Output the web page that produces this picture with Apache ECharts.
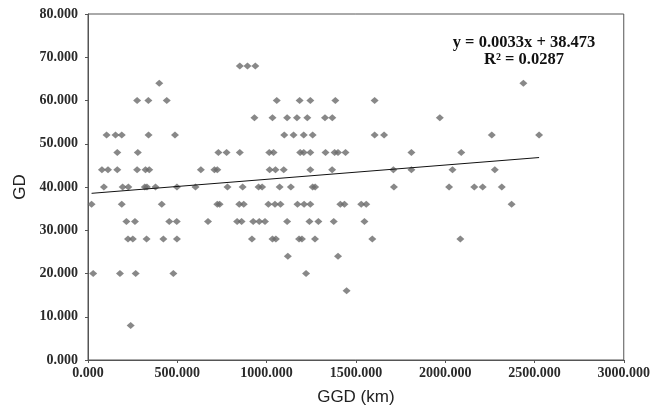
<!DOCTYPE html>
<html>
<head>
<meta charset="utf-8">
<script src="https://cdn.jsdelivr.net/npm/echarts@6/dist/echarts.min.js"></script>
<style>html,body{margin:0;padding:0;background:#fff}#c{width:653px;height:412px}</style>
</head>
<body>
<div id="c"></div>
<script>
// Points grouped by GD level: [GD, [GGD values...]]
const gd68 = [850, 893, 937];
const gd64 = [399, 2438];
const gd60 = [275, 338, 441, 1057, 1185, 1245, 1385, 1605];
const gd56 = [932, 1033, 1115, 1170, 1228, 1327, 1368, 1970];
const gd52 = [104, 154, 189, 339, 487, 1099, 1151, 1208, 1258, 1605, 1658, 2261, 2526];
const gd48 = [164, 279, 730, 776, 850, 1015, 1039, 1188, 1208, 1245, 1330, 1381, 1400, 1442, 1811, 2090];
const gd44 = [78, 112, 164, 275, 322, 343, 632, 708, 724, 1017, 1050, 1096, 1245, 1367, 1710, 1811, 2041, 2278];
const gd40 = [89, 194, 226, 318, 330, 378, 498, 602, 781, 866, 955, 975, 1073, 1136, 1258, 1272, 1713, 2022, 2163, 2210, 2317];
const gd36 = [20, 189, 413, 724, 737, 847, 872, 1010, 1047, 1078, 1173, 1210, 1245, 1413, 1436, 1530, 1558, 2372];
const gd32 = [215, 263, 455, 497, 672, 835, 860, 925, 959, 991, 1115, 1240, 1290, 1376, 1548];
const gd28 = [224, 251, 328, 422, 498, 918, 1033, 1052, 1182, 1198, 1271, 1592, 2085];
const gd24 = [1119, 1400];
const gd20 = [29, 179, 267, 478, 1221];
const gd16 = [1448];
const gd08 = [239];

const levels = [[68, gd68], [64, gd64], [60, gd60], [56, gd56], [52, gd52], [48, gd48], [44, gd44],
  [40, gd40], [36, gd36], [32, gd32], [28, gd28], [24, gd24], [20, gd20], [16, gd16], [8, gd08]];

// Trend line endpoints
const trendX = [20, 2526];
const trendY = [38.54, 46.81];
const eqText = ['y = 0.0033x + 38.473', 'R² = 0.0287'];

const xTicks = { min: 0, max: 3000, interval: 500 };
const yTicks = { min: 0, max: 80, interval: 10 };

const pts = [];
levels.forEach(([g, xs]) => xs.forEach(x => pts.push([x, g])));

const chart = echarts.init(document.getElementById('c'));
const tickFont = { fontFamily: 'Liberation Serif', fontWeight: 'bold', fontSize: 14, color: '#2a2a2a' };
chart.setOption({
  animation: false,
  grid: { left: 88, right: 24, top: 14, bottom: 52, show: true, borderColor: '#555', borderWidth: 1 },
  xAxis: {
    type: 'value', min: xTicks.min, max: xTicks.max, interval: xTicks.interval,
    name: 'GGD (km)', nameLocation: 'middle', nameGap: 29,
    nameTextStyle: { fontFamily: 'Liberation Sans', fontSize: 17, color: '#222' },
    axisLine: { show: true, lineStyle: { color: '#555' } },
    axisTick: { show: true, length: 3, lineStyle: { color: '#555' } },
    axisLabel: Object.assign({ margin: 6, formatter: v => v.toFixed(3) }, tickFont),
    splitLine: { show: false }
  },
  yAxis: {
    type: 'value', min: yTicks.min, max: yTicks.max, interval: yTicks.interval,
    name: 'GD', nameLocation: 'middle', nameGap: 51, nameRotate: 90,
    nameTextStyle: { fontFamily: 'Liberation Sans', fontSize: 17, color: '#222' },
    axisLine: { show: true, lineStyle: { color: '#555' } },
    axisTick: { show: true, length: 3, lineStyle: { color: '#555' } },
    axisLabel: Object.assign({ margin: 10, formatter: v => v.toFixed(3) }, tickFont),
    splitLine: { show: false }
  },
  series: [
    {
      type: 'scatter', data: pts, symbol: 'diamond', symbolSize: [8, 7],
      itemStyle: { color: '#6a6a6a' }, z: 2
    },
    {
      type: 'line', data: trendX.map((x, i) => [x, trendY[i]]), symbol: 'none',
      lineStyle: { color: '#111', width: 1 }, z: 3
    }
  ],
  graphic: [
    { type: 'text', x: 524, y: 43, style: { text: eqText[0], font: 'bold 16.5px "Liberation Serif"', fill: '#111', align: 'center', verticalAlign: 'middle' } },
    { type: 'text', x: 524, y: 60, style: { text: eqText[1], font: 'bold 16.5px "Liberation Serif"', fill: '#111', align: 'center', verticalAlign: 'middle' } }
  ]
});
</script>
</body>
</html>
